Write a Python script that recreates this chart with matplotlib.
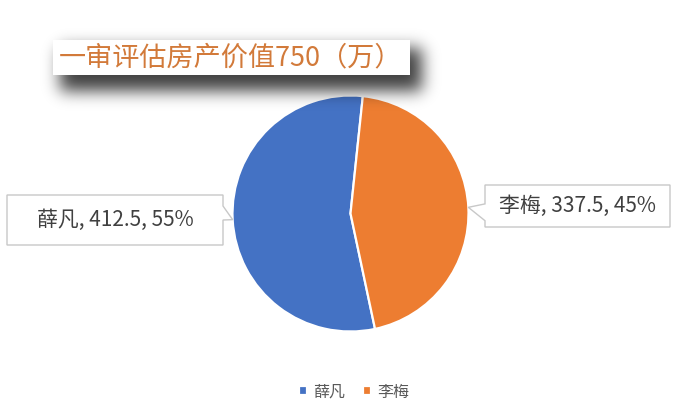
import numpy as np
import matplotlib
matplotlib.use("Agg")
import matplotlib.pyplot as plt
from matplotlib.patches import Polygon, Rectangle
from matplotlib.transforms import Affine2D

plt.rcParams["font.family"] = ["Noto Sans CJK SC", "DejaVu Sans"]

# data
names = ["薛凡", "李梅"]
values = [412.5, 337.5]
colors = ["#4472C4", "#ED7D31"]
title = "一审评估房产价值750（万）"

W, H = 700, 413
fig = plt.figure(figsize=(W / 100, H / 100), dpi=100)
fig.patch.set_facecolor("white")

# pixel coords, origin top-left
px = Affine2D().scale(1 / W, -1 / H).translate(0, 1) + fig.transFigure

# pie axes: square of 236 px centred at (350.5, 213.5)
cx, cy, r = 350.5, 213.5, 118
ax = fig.add_axes([(cx - r) / W, (H - cy - r) / H, 2 * r / W, 2 * r / H])
wedges, _ = ax.pie(values, colors=colors, startangle=-78, counterclock=False,
                   wedgeprops=dict(edgecolor="white", linewidth=1.6))
ax.set_xlim(-1, 1)
ax.set_ylim(-1, 1)
ax.set_aspect("equal")


def edge_point(w):
    mid = np.deg2rad((w.theta1 + w.theta2) / 2)
    x, y = ax.transData.transform((np.cos(mid), np.sin(mid)))
    return x, H - y


# title shadow (blurred)
sh = np.zeros((H, W))
sh[48:91, 60:422] = 1.0
k = np.exp(-0.5 * (np.arange(-30, 31) / 8.0) ** 2)
k /= k.sum()
sh = np.apply_along_axis(lambda v: np.convolve(v, k, mode="same"), 0, sh)
sh = np.apply_along_axis(lambda v: np.convolve(v, k, mode="same"), 1, sh)
img = np.zeros((H, W, 4))
img[..., 3] = sh * 0.75
fig.figimage(img, 0, 0, origin="upper", zorder=1)

fig.add_artist(Rectangle((53, 40), 357, 35, transform=px, facecolor="white",
                         edgecolor="none", zorder=2))
fig.text(59 / W, 1 - 57.5 / H, title, fontsize=19.5, color="#D27A3A",
         ha="left", va="center", zorder=3)


def callout(box, tip, side, text):
    x0, y0, x1, y1 = box
    tx, ty = tip
    if side == "right":
        pts = [(x0, y0), (x1, y0), (x1, y0 + 0.22 * (y1 - y0)), (tx, ty),
               (x1, y0 + 0.5 * (y1 - y0)), (x1, y1), (x0, y1)]
    else:
        pts = [(x0, y0), (x1, y0), (x1, y1), (x0, y1),
               (x0, y0 + 0.85 * (y1 - y0)), (tx, ty), (x0, y0 + 0.45 * (y1 - y0))]
    fig.add_artist(Polygon(pts, closed=True, transform=px, facecolor="white",
                           edgecolor="#C8C8C8", linewidth=1.0, zorder=4))
    fig.text((x0 + x1) / 2 / W, 1 - (y0 + y1) / 2 / H, text, fontsize=15,
             color="#404040", ha="center", va="center", zorder=5)


total = sum(values)
labels = [f"{n}, {v:g}, {v / total:.0%}" for n, v in zip(names, values)]
callout((7, 195, 223, 245), edge_point(wedges[0]), "right", labels[0])
callout((485, 185, 670, 227), edge_point(wedges[1]), "left", labels[1])

fig.legend(wedges, names, loc="center", bbox_to_anchor=(354 / W, 1 - 392 / H),
           ncol=2, frameon=False, fontsize=11.5, handlelength=0.5,
           handleheight=0.5, handletextpad=0.4, columnspacing=1.1,
           labelcolor="#595959")

fig.savefig("out.png", dpi=100, facecolor="white")
